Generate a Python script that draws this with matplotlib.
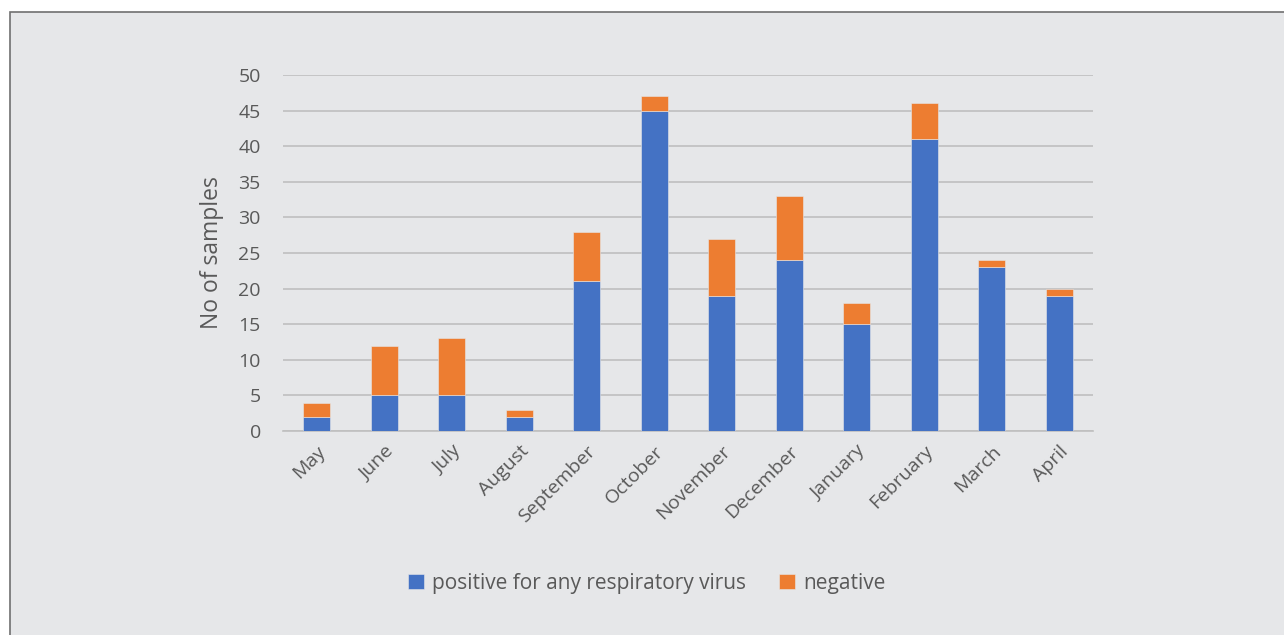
import matplotlib.pyplot as plt
from matplotlib.patches import Rectangle

months = ['May', 'June', 'July', 'August', 'September', 'October',
          'November', 'December', 'January', 'February', 'March', 'April']
positive = [2, 5, 5, 2, 21, 45, 19, 24, 15, 41, 23, 19]
negative = [2, 7, 8, 1, 7, 2, 8, 9, 3, 5, 1, 1]

txt = '#595959'
plt.rcParams['font.family'] = ['Open Sans', 'DejaVu Sans']

fig = plt.figure(figsize=(12.84, 6.35), dpi=100)
fig.patch.set_facecolor('white')
# grey panel with a thin dark frame, running off the right and bottom edges
fig.patches.append(Rectangle((10 / 1284, -0.01), 1.02, 1 - 12 / 635 + 0.01,
                             transform=fig.transFigure, facecolor='#E6E7E9',
                             edgecolor='#707070', linewidth=1.2, zorder=-10))

ax = fig.add_axes([283 / 1284, 204 / 635, 810 / 1284, 356 / 635])
ax.set_facecolor('none')
ax.set_zorder(5)

x = range(len(months))
ax.bar(x, positive, width=0.4, color='#4472C4', label='positive for any respiratory virus',
       zorder=3, edgecolor='#E6E7E9', linewidth=0.4)
ax.bar(x, negative, width=0.4, bottom=positive, color='#ED7D31', label='negative',
       zorder=3, edgecolor='#E6E7E9', linewidth=0.4)

ax.set_xlim(-0.5, len(months) - 0.5)
ax.set_ylim(0, 50)
ax.set_yticks(range(0, 51, 5))
ax.yaxis.grid(True, color='#BFBFBF', linewidth=1.2, zorder=0)
for s in ['top', 'right', 'left']:
    ax.spines[s].set_visible(False)
ax.spines['bottom'].set_color('#BFBFBF')
ax.spines['bottom'].set_linewidth(1.2)
ax.tick_params(axis='both', length=0, colors=txt, labelsize=14)
ax.tick_params(axis='y', pad=16)
ax.set_xticks(list(x))
ax.set_xticklabels(months, rotation=45, ha='right', rotation_mode='anchor')
ax.tick_params(axis='x', pad=8)
ax.set_ylabel('No of samples', color=txt, fontsize=16.5, labelpad=10)

ax.legend(loc='center', bbox_to_anchor=(647 / 1284, 1 - 583 / 635),
          bbox_transform=fig.transFigure, ncol=2, frameon=False, fontsize=15,
          labelcolor=txt, handlelength=0.75, handleheight=0.75,
          handletextpad=0.4, columnspacing=1.6)

fig.savefig('out.png', dpi=100, facecolor=fig.get_facecolor())
